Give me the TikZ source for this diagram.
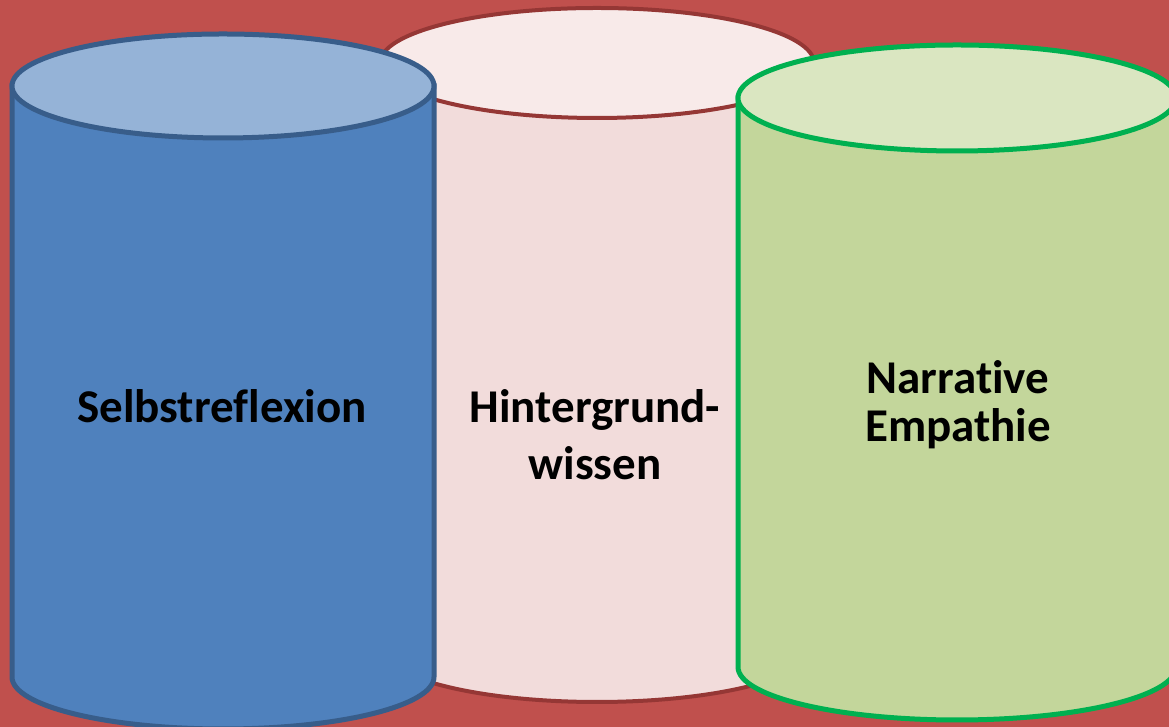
\documentclass[tikz,border=0pt]{standalone}
\usepackage{fontspec}
\setmainfont{Carlito}[Ligatures=NoCommon]
\usepackage{xcolor}

\definecolor{bgred}{HTML}{C0504D}
\definecolor{blueside}{HTML}{4F81BD}
\definecolor{bluetop}{HTML}{95B3D7}
\definecolor{blueline}{HTML}{385D8A}
\definecolor{pinkside}{HTML}{F2DCDB}
\definecolor{pinktop}{HTML}{F8EAE9}
\definecolor{pinkline}{HTML}{953735}
\definecolor{greenside}{HTML}{C3D69B}
\definecolor{greentop}{HTML}{DAE6C1}
\definecolor{greenline}{HTML}{00B050}

\begin{document}
\begin{tikzpicture}[x=1pt, y=1pt,
    label/.style={font=\bfseries\fontsize{47}{57}\selectfont, align=center, inner sep=0pt}]
  % Background
  \fill[bgred] (0,0) rectangle (1169,727);
  \useasboundingbox (0,0) rectangle (1169,727);

  % Middle drum (behind the others)
  \filldraw[fill=pinkside, draw=pinkline, line width=4pt]
    (380,664) -- (380,80) arc[start angle=180, end angle=360, x radius=217, y radius=55]
    -- (814,664) -- cycle;
  \filldraw[fill=pinktop, draw=pinkline, line width=4pt]
    (597,664) ellipse[x radius=217, y radius=55];

  % Left drum
  \filldraw[fill=blueside, draw=blueline, line width=5pt]
    (12,641) -- (12,50) arc[start angle=180, end angle=360, x radius=211, y radius=52]
    -- (434,641) -- cycle;
  \filldraw[fill=bluetop, draw=blueline, line width=5pt]
    (223,641) ellipse[x radius=211, y radius=52];

  % Right drum
  \filldraw[fill=greenside, draw=greenline, line width=5pt]
    (738,629) -- (738,60) arc[start angle=180, end angle=360, x radius=219, y radius=53]
    -- (1176,629) -- cycle;
  \filldraw[fill=greentop, draw=greenline, line width=5pt]
    (957,629) ellipse[x radius=219, y radius=53];

  % Labels (base = last line)
  \node[label, anchor=base] (selbst) at (222,304) {Selbstreflexion};
  \node[label, anchor=base] (wissen) at (595,247) {Hintergrund-\\wissen};
  \node[label, anchor=base, font=\bfseries\fontsize{47}{48}\selectfont] (empathie) at (958,285) {Narrative\\Empathie};
\end{tikzpicture}
\end{document}
